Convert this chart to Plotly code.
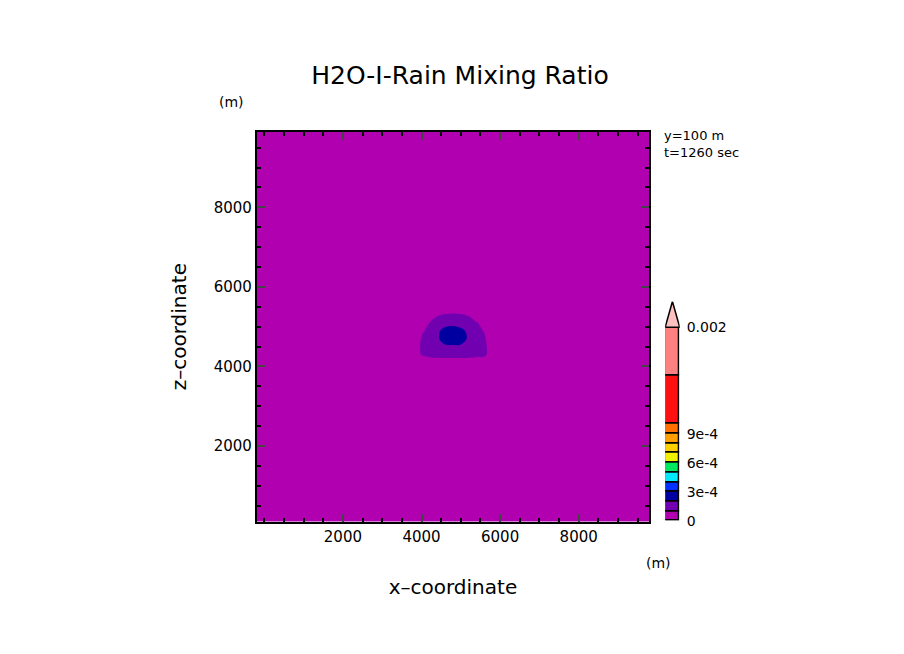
import plotly.graph_objects as go

# field (values in 1e-4 kg/kg)
x_pts = [3800, 4000, 4200, 4400, 4600, 4800, 5000, 5200, 5400, 5600, 5800]
z_pts = [4100, 4300, 4500, 4700, 4900, 5100, 5300, 5500]
q_rows = [
    [0, 0, 0, 0, 0, 0, 0, 0, 0, 0, 0],
    [0, 1.1, 1.5, 1.7, 1.8, 1.8, 1.8, 1.7, 1.5, 1.4, 0],
    [0, 1.2, 1.5, 1.8, 1.9, 1.9, 1.9, 1.8, 1.5, 1.4, 0],
    [0, 1.1, 1.5, 1.9, 2.3, 2.4, 2.3, 1.9, 1.5, 1.2, 0],
    [0, 0.8, 1.3, 1.8, 2.3, 2.4, 2.2, 1.8, 1.4, 0.9, 0],
    [0, 0, 1.0, 1.4, 1.6, 1.7, 1.6, 1.4, 1.1, 0.5, 0],
    [0, 0, 0, 0.9, 1.1, 1.2, 1.1, 0.9, 0, 0, 0],
    [0, 0, 0, 0, 0, 0, 0, 0, 0, 0, 0],
]

levels = [0, 1e-4, 2e-4, 3e-4, 4e-4, 5e-4, 6e-4, 7e-4, 8e-4, 9e-4, 1e-3, 1.5e-3, 2e-3]
colors = ["#b000b0", "#7000b0", "#0000a0", "#0030ff", "#00e8ff", "#00e860",
          "#f0f000", "#ffd000", "#ffa000", "#ff7000", "#ff1010", "#ff8080"]
over_color = "#ffc0c0"
cb_ticks = [0, 3e-4, 6e-4, 9e-4, 2e-3]
cb_labels = ["0", "3e-4", "6e-4", "9e-4", "0.002"]

q = [[v * 1e-4 for v in r] for r in q_rows]
zmax = levels[-1]
cscale = []
for i, c in enumerate(colors):
    cscale.append([levels[i] / zmax, c])
    cscale.append([levels[i + 1] / zmax, c])

font = "DejaVu Sans"
fig = go.Figure()
fig.add_trace(go.Contour(
    x=x_pts, y=z_pts, z=q, colorscale=cscale, zmin=0, zmax=zmax,
    contours=dict(start=0, end=zmax, size=1e-4, coloring="fill"),
    line=dict(width=0), showscale=False, hoverinfo="skip"))

# colorbar drawn as stacked bars
for i, c in enumerate(colors):
    fig.add_trace(go.Bar(x=[0], y=[levels[i + 1] - levels[i]], base=[levels[i]],
                         marker=dict(color=c, line=dict(color="black", width=1.5)),
                         width=1, xaxis="x2", yaxis="y2", showlegend=False))
fig.add_trace(go.Scatter(x=[-0.5, 0, 0.5, -0.5], y=[zmax, 2.265e-3, zmax, zmax],
                         fill="toself", fillcolor=over_color, mode="lines",
                         line=dict(color="black", width=1.5),
                         xaxis="x2", yaxis="y2", showlegend=False))

axis_common = dict(ticks="inside", ticklen=8, tickwidth=1.5, mirror="allticks",
                   showline=True, linecolor="black", linewidth=2, showgrid=False,
                   zeroline=False, tickfont=dict(family=font, size=15, color="black"),
                   minor=dict(ticks="inside", ticklen=4, dtick=500, tickcolor="black"))

fig.update_layout(
    width=904, height=654, margin=dict(l=0, r=0, t=0, b=0),
    paper_bgcolor="white", plot_bgcolor="white", bargap=0, barmode="overlay",
    title=dict(text="H2O-I-Rain Mixing Ratio", x=0.5, y=0.911, xanchor="center",
               font=dict(family=font, size=25, color="black")),
    xaxis=dict(domain=[0.2753, 0.7091], range=[-190, 9790], tickvals=[2000, 4000, 6000, 8000],
               title=dict(text="x\u2013coordinate", standoff=35,
                          font=dict(family=font, size=20, color="black")),
               **axis_common),
    yaxis=dict(domain=[0.205, 0.8085], range=[100, 9900], tickvals=[2000, 4000, 6000, 8000],
               title=dict(text="z\u2013coordinate", standoff=22,
                          font=dict(family=font, size=20, color="black")),
               **axis_common),
    xaxis2=dict(domain=[0.727, 0.743], range=[-0.5, 0.5], visible=False, anchor="y2"),
    yaxis2=dict(domain=[0.2063, 0.5457], range=[0, 2.265e-3], anchor="x2", side="right",
                tickvals=cb_ticks, ticktext=cb_labels, showgrid=False, zeroline=False,
                showline=False, ticks="", ticklabelstandoff=6,
                tickfont=dict(family=font, size=14, color="black")),
    shapes=[dict(type="rect", xref="x domain", yref="y domain", x0=0, x1=1, y0=0, y1=1,
                 fillcolor="#b000b0", line=dict(width=0), layer="below")],
    annotations=[
        dict(text="(m)", x=0.2315, y=0.8695, xref="paper", yref="paper", showarrow=False,
             font=dict(family=font, size=14, color="black")),
        dict(text="(m)", x=0.7355, y=0.1255, xref="paper", yref="paper", showarrow=False,
             font=dict(family=font, size=14, color="black")),
        dict(text="y=100 m<br>t=1260 sec", x=0.7235, y=0.817, xref="paper", yref="paper",
             xanchor="left", yanchor="top", align="left", showarrow=False,
             font=dict(family=font, size=13, color="black")),
    ],
)
fig.write_html("out.html")
